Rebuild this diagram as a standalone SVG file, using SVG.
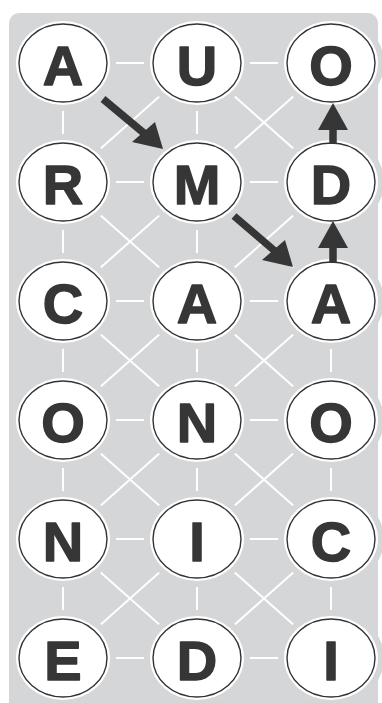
<svg xmlns="http://www.w3.org/2000/svg" width="382" height="703" viewBox="0 0 382 703">
<defs>
<style>
.bg{fill:#d5d6d8}
.ln{stroke:#ffffff;stroke-width:2;fill:none}
.gap{fill:#d5d6d8}
.halo{fill:#ffffff}
.rim{fill:#ffffff;stroke:#333333;stroke-width:1.4}
.lt{font-family:"Liberation Sans",Arial,sans-serif;font-weight:bold;font-size:56px;fill:#363636;stroke:#363636;stroke-width:1.4;stroke-linejoin:round;text-anchor:middle}
.ar{stroke:#363636;stroke-width:7.5;fill:none}
.ah{fill:#363636}
</style>
<g id="cell">
<ellipse class="gap" rx="53" ry="48"/>
<ellipse class="halo" rx="47" ry="42"/>
<ellipse class="rim" rx="44" ry="39"/>
</g>
</defs>
<rect class="bg" x="9" y="13" width="369" height="700" rx="10"/>
<g id="connectors">
<path class="ln" d="M63 63H331M63 182H331M63 301H331M63 420H331M63 539H331M63 658H331"/>
<path class="ln" d="M63 63V658M197 63V658M331 301V658"/>
<path class="ln" d="M197 63L63 182M197 63L331 182M331 63L197 182
M63 182L197 301M197 182L63 301M197 182L331 301M331 182L197 301
M63 301L197 420M197 301L63 420M197 301L331 420M331 301L197 420
M63 420L197 539M197 420L63 539M197 420L331 539M331 420L197 539
M63 539L197 658M197 539L63 658M197 539L331 658M331 539L197 658"/>
</g>
<g id="nodes">
<g id="n-A1"><use href="#cell" x="63" y="63"/><text class="lt" x="63" y="85">A</text></g>
<g id="n-U"><use href="#cell" x="197" y="63"/><text class="lt" x="197" y="85">U</text></g>
<g id="n-O1"><use href="#cell" x="331" y="63"/><text class="lt" x="331" y="85">O</text></g>
<g id="n-R"><use href="#cell" x="63" y="182"/><text class="lt" x="63" y="204">R</text></g>
<g id="n-M"><use href="#cell" x="197" y="182"/><text class="lt" x="197" y="204">M</text></g>
<g id="n-D1"><use href="#cell" x="331" y="182"/><text class="lt" x="331" y="204">D</text></g>
<g id="n-C1"><use href="#cell" x="63" y="301"/><text class="lt" x="63" y="323">C</text></g>
<g id="n-A2"><use href="#cell" x="197" y="301"/><text class="lt" x="197" y="323">A</text></g>
<g id="n-A3"><use href="#cell" x="331" y="301"/><text class="lt" x="331" y="323">A</text></g>
<g id="n-O2"><use href="#cell" x="63" y="420"/><text class="lt" x="63" y="442">O</text></g>
<g id="n-N1"><use href="#cell" x="197" y="420"/><text class="lt" x="197" y="442">N</text></g>
<g id="n-O3"><use href="#cell" x="331" y="420"/><text class="lt" x="331" y="442">O</text></g>
<g id="n-N2"><use href="#cell" x="63" y="539"/><text class="lt" x="63" y="561">N</text></g>
<g id="n-I1"><use href="#cell" x="197" y="539"/><text class="lt" x="197" y="561">I</text></g>
<g id="n-C2"><use href="#cell" x="331" y="539"/><text class="lt" x="331" y="561">C</text></g>
<g id="n-E"><use href="#cell" x="63" y="658"/><text class="lt" x="63" y="680">E</text></g>
<g id="n-D2"><use href="#cell" x="197" y="658"/><text class="lt" x="197" y="680">D</text></g>
<g id="n-I2"><use href="#cell" x="331" y="658"/><text class="lt" x="331" y="680">I</text></g>
</g>
<g id="arrows">
<path class="ar" d="M103 99L145 134"/>
<polygon class="ah" points="163,149 132,142 155,122"/>
<path class="ar" d="M234 216L276 252"/>
<polygon class="ah" points="293,267 262,260 285,240"/>
<path class="ar" d="M333 263V246"/>
<polygon class="ah" points="333,221 318,248 348,248"/>
<path class="ar" d="M333 144V128"/>
<polygon class="ah" points="333,103 318,130 348,130"/>
</g>
</svg>
